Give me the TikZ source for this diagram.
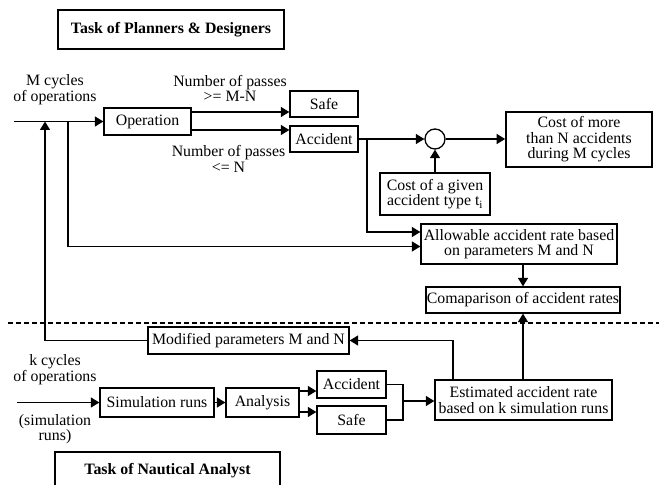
\documentclass[tikz,border=0pt]{standalone}
\usepackage{fontspec}
\setmainfont{Liberation Serif}
\usetikzlibrary{arrows.meta,calc}
\newcommand\dgfont{\fontsize{15.9}{15.6}\selectfont}
\begin{document}
\begin{tikzpicture}[x=1bp,y=-1bp,
  box/.style={draw,line width=1.3bp,rectangle,inner sep=0pt,align=center,font=\dgfont},
  titlebox/.style={draw,line width=2.3bp,rectangle,inner sep=0pt,align=center,font=\dgfont\bfseries},
  lbl/.style={inner sep=0pt,align=center,font=\dgfont},
  conn/.style={line width=1.3bp},
  arr/.style={conn,-{Triangle[length=8.5bp,width=10bp]}},
  sepline/.style={line width=1.4bp,dash pattern=on 5bp off 3bp}]
\useasboundingbox (0,0) rectangle (659,485);
% title boxes
\node[titlebox,minimum width=226bp,minimum height=39bp] (t1) at (171,29.5) {Task of Planners \& Designers};
\node[titlebox,minimum width=225bp,minimum height=38bp] (t2) at (167.5,471) {Task of Nautical Analyst};
% upper boxes
\node[box,minimum width=87bp,minimum height=27bp] (op) at (147.5,121.5) {Operation};
\node[box,minimum width=68bp,minimum height=26bp] (safe1) at (324,104) {Safe};
\node[box,minimum width=68bp,minimum height=26bp] (acc1) at (324,139) {Accident};
\node[draw,circle,line width=1.3bp,minimum size=20bp,inner sep=0pt] (circ) at (435,139) {};
\node[box,minimum width=146bp,minimum height=55bp,line width=1.7bp] (cost) at (579,139.5) {Cost of more\\than N accidents\\during M cycles};
\node[box,minimum width=110bp,minimum height=42bp] (given) at (435,194) {Cost of a given\\accident type t\textsubscript{i}};
\node[box,minimum width=196bp,minimum height=40bp] (allow) at (519,244) {Allowable accident rate based\\on parameters M and N};
\node[box,minimum width=194bp,minimum height=26bp] (comp) at (523,300) {Comaparison of accident rates};
% lower boxes
\node[box,minimum width=201bp,minimum height=27bp] (modp) at (248.5,340.5) {Modified parameters M and N};
\node[box,minimum width=114bp,minimum height=29bp] (sim) at (157,402.5) {Simulation runs};
\node[box,minimum width=73bp,minimum height=29bp] (ana) at (262.5,402.5) {Analysis};
\node[box,minimum width=69bp,minimum height=27bp] (acc2) at (351.5,384.5) {Accident};
\node[box,minimum width=69bp,minimum height=28bp] (safe2) at (351.5,420) {Safe};
\node[box,minimum width=177bp,minimum height=40bp] (est) at (523.5,400) {Estimated accident rate\\based on k simulation runs};
% labels
\node[lbl] (lm) at (55,89.5) {M cycles\\of operations};
\node[lbl] (lp1) at (230,88.5) {Number of passes\\>= M-N};
\node[lbl] (lp2) at (228.5,159) {Number of passes\\<= N};
\node[lbl] (lk) at (55,369.5) {k cycles\\of operations};
\node[lbl] (ls) at (55,429) {(simulation\\runs)};
% dashed separator
\coordinate (d1) at (8,323);
\coordinate (d2) at (659,323);
\draw[sepline] (d1) -- (d2);
% upper connectors
\coordinate (in1) at (14,121.5);
\draw[arr] (in1) -- (op.west);
\draw[arr] ($(op.east)+(0,-9.5)$) coordinate (o1) -- (o1 -| safe1.west);
\draw[arr] ($(op.east)+(0,8.5)$) coordinate (o2) -- (o2 -| acc1.west);
\draw[arr] (acc1.east) -- (circ.west);
\draw[arr] (circ.east) -- (circ.east -| cost.west);
\draw[arr] (given.north) -- (circ.south);
\coordinate (b1) at (367,139);
\draw[arr] (b1) |- ($(allow.west)+(0,-12)$);
\coordinate (b2) at (68,121.5);
\draw[arr] (b2) |- ($(allow.west)+(0,2.5)$);
\draw[arr] (comp.north |- allow.south) -- (comp.north);
% lower connectors
\draw[arr] (est.north -| comp.south) -- (comp.south);
\coordinate (e1) at (453,380);
\draw[arr] (e1) |- (modp.east);
\coordinate (fb) at (45,121.5);
\draw[arr] (modp.west) -| (fb);
\coordinate (in2) at (17,402.5);
\draw[arr] (in2) -- (sim.west);
\draw[arr] (sim.east) -- (ana.west);
\draw[arr] ($(ana.east)+(0,-11.5)$) coordinate (a1) -- (a1 -| acc2.west);
\draw[arr] ($(ana.east)+(0,9.5)$) coordinate (a2) -- (a2 -| safe2.west);
\coordinate (m) at (403,401);
\draw[conn] (acc2.east) -| (m) |- (safe2.east);
\draw[arr] (m) -- (m -| est.west);
\end{tikzpicture}
\end{document}
